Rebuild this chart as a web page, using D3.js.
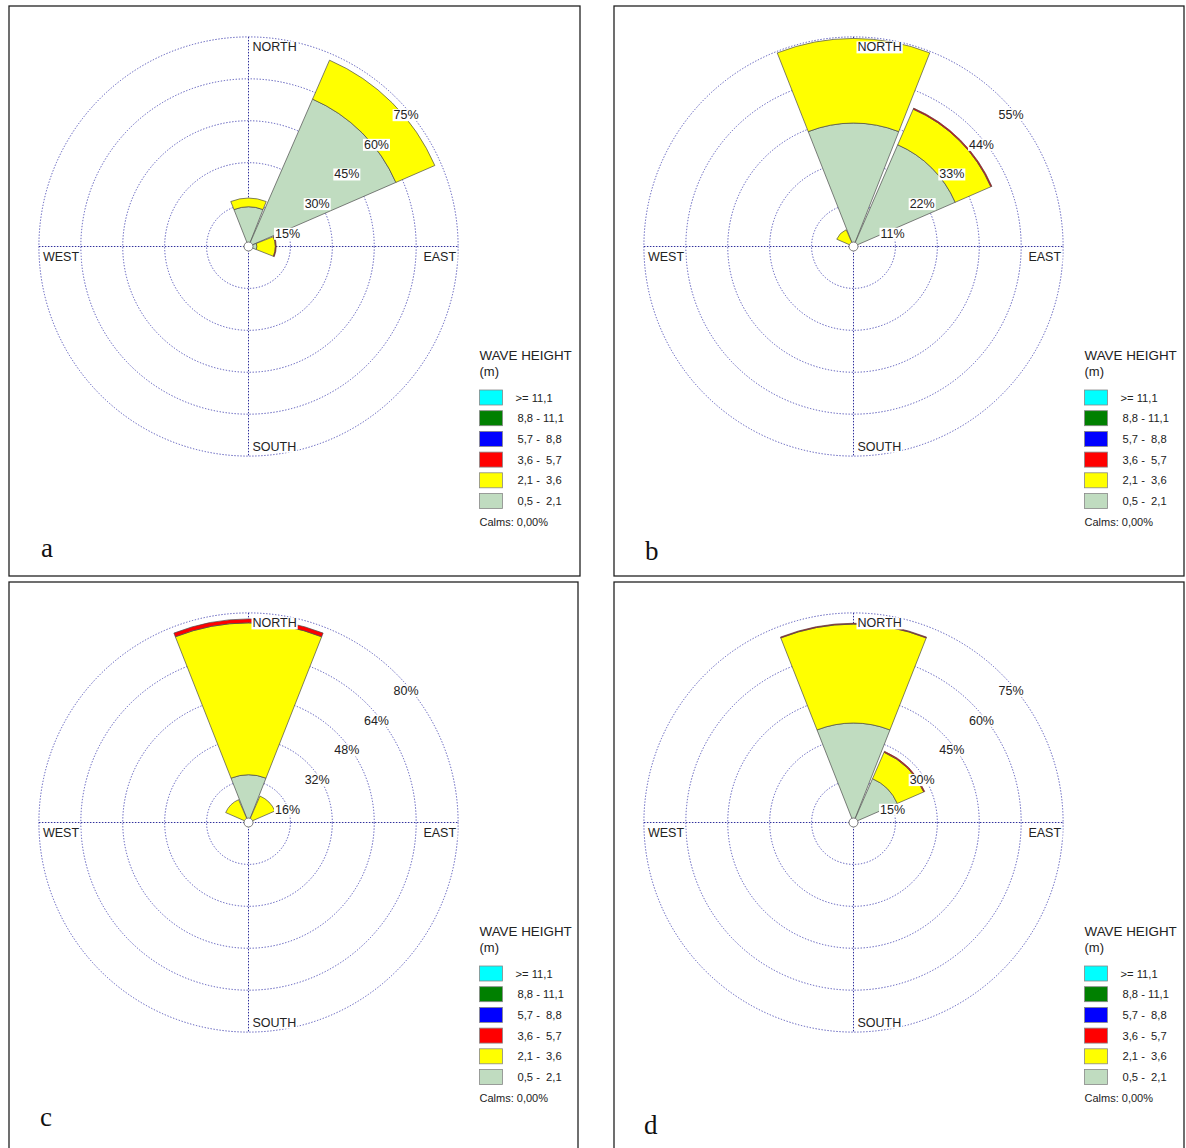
<!DOCTYPE html>
<html>
<head>
<meta charset="utf-8">
<script src="https://cdn.jsdelivr.net/npm/d3@7"></script>
<style>
  html, body { margin: 0; padding: 0; background: #fff; }
  svg { display: block; }
  text { font-family: "Liberation Sans", Arial, sans-serif; }
</style>
</head>
<body>
<svg id="chart" width="1186" height="1148"></svg>
<script>
// ---------- DATA ----------
const directions = ["N", "NE", "E", "SE", "S", "SW", "W", "NW"];
const binKeys = ["h05_21", "h21_36", "h36_57", "h57_88", "h88_111", "h111"];
const legendLabels = [">= 11,1", "8,8 - 11,1", "5,7 -  8,8", "3,6 -  5,7", "2,1 -  3,6", "0,5 -  2,1"];
const legendColors = ["#00FFFF", "#008000", "#0000FF", "#FF0000", "#FFFF00", "#C0DCC0"];
const binColors = ["#C0DCC0", "#FFFF00", "#FF0000", "#0000FF", "#008000", "#00FFFF"];

// panel a
const a_h05_21 = [14.2, 57.5, 3.0, 0, 0, 0, 0, 0];
const a_h21_36 = [3.1, 15.2, 6.6, 0, 0, 0, 0, 0];
const a_h36_57 = [0, 0, 0.3, 0, 0, 0, 0, 0];
const a_ticks = ["15%", "30%", "45%", "60%", "75%"];
const a_max = 75;
// panel b
const b_h05_21 = [32.4, 29.1, 0, 0, 0, 0, 0, 1.0];
const b_h21_36 = [22.2, 10.2, 0, 0, 0, 0, 0, 3.8];
const b_h36_57 = [0, 0.3, 0, 0, 0, 0, 0, 0];
const b_ticks = ["11%", "22%", "33%", "44%", "55%"];
const b_max = 55;
// panel c
const c_h05_21 = [18.2, 1.5, 0, 0, 0, 0, 0, 1.5];
const c_h21_36 = [58.0, 9.5, 0, 0, 0, 0, 0, 8.0];
const c_h36_57 = [1.5, 0, 0, 0, 0, 0, 0, 0];
const c_ticks = ["16%", "32%", "48%", "64%", "80%"];
const c_max = 80;
// panel d
const d_h05_21 = [35.6, 17.1, 0, 0, 0, 0, 0, 0];
const d_h21_36 = [35.4, 10.3, 0, 0, 0, 0, 0, 0];
const d_h36_57 = [0.3, 0.4, 0, 0, 0, 0, 0, 0];
const d_ticks = ["15%", "30%", "45%", "60%", "75%"];
const d_max = 75;

const zeros = [0, 0, 0, 0, 0, 0, 0, 0];
const panels = [
  { letter: "a", box: [9, 6, 580, 576], c: [248.5, 246.5], letterPos: [41, 557],
    series: [a_h05_21, a_h21_36, a_h36_57, zeros, zeros, zeros], ticks: a_ticks, max: a_max },
  { letter: "b", box: [614, 6, 1184, 576], c: [853.5, 246.5], letterPos: [645, 560],
    series: [b_h05_21, b_h21_36, b_h36_57, zeros, zeros, zeros], ticks: b_ticks, max: b_max },
  { letter: "c", box: [9, 582, 578, 1152], c: [248.5, 822.5], letterPos: [40, 1126],
    series: [c_h05_21, c_h21_36, c_h36_57, zeros, zeros, zeros], ticks: c_ticks, max: c_max },
  { letter: "d", box: [614, 582, 1184, 1152], c: [853.5, 822.5], letterPos: [644, 1134],
    series: [d_h05_21, d_h21_36, d_h36_57, zeros, zeros, zeros], ticks: d_ticks, max: d_max }
];

// ---------- DRAW ----------
const svg = d3.select("#chart");
const R = 209.6;
const padDeg = 1.0;

panels.forEach(p => {
  const [cx, cy] = p.c;
  const g = svg.append("g");

  // frame
  g.append("rect")
    .attr("x", p.box[0]).attr("y", p.box[1])
    .attr("width", p.box[2] - p.box[0]).attr("height", p.box[3] - p.box[1])
    .attr("fill", "none").attr("stroke", "#222").attr("stroke-width", 1.3);

  const r = d3.scaleLinear().domain([0, p.max]).range([0, R]);
  const ang = d3.scaleBand().domain(directions).range([-Math.PI / 8, 2 * Math.PI - Math.PI / 8]);
  const pad = padDeg * Math.PI / 180;

  const plot = g.append("g").attr("transform", `translate(${cx},${cy})`);

  // rings
  const ringVals = p.ticks.map((t, i) => p.max * (i + 1) / p.ticks.length);
  plot.selectAll("circle.ring").data(ringVals).join("circle")
    .attr("class", "ring")
    .attr("r", d => r(d))
    .attr("fill", "none")
    .attr("stroke", "#5252b8")
    .attr("stroke-width", 1)
    .attr("stroke-dasharray", "1.3,1.7");

  // axes
  plot.append("line").attr("x1", -R).attr("x2", R).attr("y1", 0).attr("y2", 0)
    .attr("stroke", "#30309c").attr("stroke-width", 1).attr("stroke-dasharray", "1.5,1.5");
  plot.append("line").attr("y1", -R).attr("y2", R).attr("x1", 0).attr("x2", 0)
    .attr("stroke", "#30309c").attr("stroke-width", 1).attr("stroke-dasharray", "1.5,1.5");

  // stacked sectors
  const rows = directions.map((d, i) => {
    const o = { dir: d };
    binKeys.forEach((k, j) => { o[k] = p.series[j][i]; });
    return o;
  });
  const stacked = d3.stack().keys(binKeys)(rows);
  const arc = d3.arc();
  stacked.forEach((layer, j) => {
    plot.append("g").selectAll("path").data(layer.filter(s => s[1] - s[0] > 0)).join("path")
      .attr("d", s => arc({
        innerRadius: r(s[0]), outerRadius: r(s[1]),
        startAngle: ang(s.data.dir) + pad, endAngle: ang(s.data.dir) + ang.bandwidth() - pad
      }))
      .attr("fill", binColors[j])
      .attr("stroke", "#4a4a4a")
      .attr("stroke-width", 0.7)
      .attr("stroke-linejoin", "round");
  });

  // center circle
  plot.append("circle").attr("r", 4.5).attr("fill", "#fff").attr("stroke", "#777").attr("stroke-width", 1);

  // labelled text helper
  function boxedText(parent, x, y, txt, anchor, size) {
    const t = parent.append("text")
      .attr("x", x).attr("y", y)
      .attr("text-anchor", anchor)
      .attr("dominant-baseline", "central")
      .attr("font-size", size).attr("fill", "#222")
      .text(txt);
    const bb = t.node().getBBox();
    parent.insert("rect", () => t.node())
      .attr("x", bb.x - 1).attr("y", bb.y + 1)
      .attr("width", bb.width + 2).attr("height", bb.height - 2)
      .attr("fill", "#fff");
    return t;
  }

  // ring tick labels
  ringVals.forEach((v, i) => {
    const rr = r(v);
    const x = rr * Math.cos(Math.PI / 4) + 9.4;
    const y = -rr * Math.sin(Math.PI / 4) + 16.9;
    boxedText(plot, x, y, p.ticks[i], "middle", 12.5);
  });

  // compass labels
  boxedText(plot, 4, -R + 10.5, "NORTH", "start", 12.5);
  boxedText(plot, 4, R - 9.5, "SOUTH", "start", 12.5);
  boxedText(plot, -R + 4, 10.5, "WEST", "start", 12.5);
  boxedText(plot, R - 2, 10.5, "EAST", "end", 12.5);

  // legend
  const lg = g.append("g").attr("transform", `translate(${cx + 231},${cy})`);
  lg.append("text").attr("x", 0).attr("y", 108.5).attr("dominant-baseline", "central")
    .attr("font-size", 13.4).attr("fill", "#222").text("WAVE HEIGHT");
  lg.append("text").attr("x", 0).attr("y", 124.5).attr("dominant-baseline", "central")
    .attr("font-size", 13).attr("fill", "#222").text("(m)");
  legendLabels.forEach((lab, i) => {
    const yc = 151 + i * 20.7;
    lg.append("rect").attr("x", 0).attr("y", yc - 7.5).attr("width", 23).attr("height", 15)
      .attr("fill", legendColors[i]).attr("stroke", "#888").attr("stroke-width", 0.8);
    lg.append("text").attr("x", i === 0 ? 36 : 38).attr("y", yc).attr("dominant-baseline", "central")
      .attr("font-size", 11.2).attr("fill", "#222").style("white-space", "pre").text(lab);
  });
  lg.append("text").attr("x", 0).attr("y", 275.5).attr("dominant-baseline", "central")
    .attr("font-size", 11).attr("fill", "#222").text("Calms: 0,00%");

  // panel letter
  g.append("text").attr("x", p.letterPos[0]).attr("y", p.letterPos[1])
    .attr("font-family", "'Liberation Serif', 'Times New Roman', serif")
    .style("font-family", "'Liberation Serif', 'Times New Roman', serif")
    .attr("font-size", 27).attr("fill", "#111").text(p.letter);
});
</script>
</body>
</html>
